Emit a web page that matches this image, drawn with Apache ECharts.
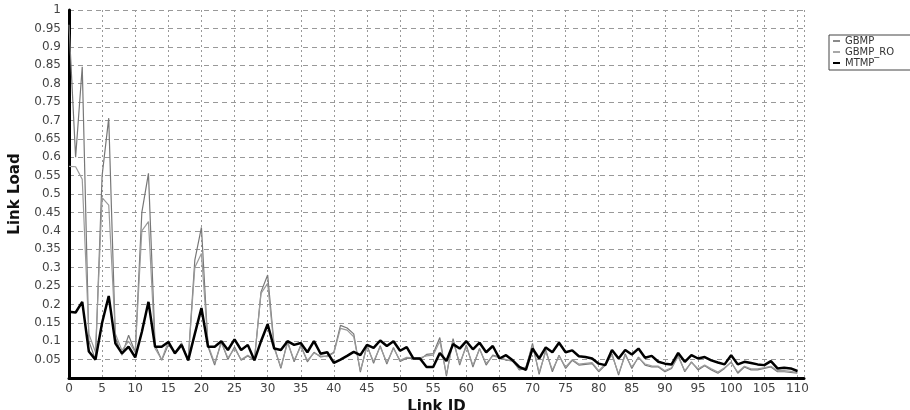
<!DOCTYPE html>
<html>
<head>
<meta charset="utf-8">
<script src="https://cdn.jsdelivr.net/npm/echarts@6/dist/echarts.min.js"></script>
<style>
  html, body { margin: 0; padding: 0; background: #fff; }
  #main { width: 910px; height: 410px; }
</style>
</head>
<body>
<div id="main"></div>
<script>
var seriesNames = ['GBMP', 'GBMP_RO', 'MTMP'];

// link load per link id 0..110
var gbmp = [
    0.96, 0.60, 0.846, 0.10, 0.05, 0.55, 0.706, 0.11, 0.062, 0.116,
    0.07, 0.45, 0.556, 0.09, 0.048, 0.09, 0.07, 0.095, 0.048, 0.32,
    0.409, 0.085, 0.035, 0.1, 0.05, 0.085, 0.048, 0.06, 0.048, 0.234,
    0.28, 0.085, 0.026, 0.1, 0.044, 0.09, 0.044, 0.07, 0.057, 0.06,
    0.07, 0.143, 0.136, 0.12, 0.016, 0.09, 0.04, 0.088, 0.038, 0.083,
    0.045, 0.054, 0.053, 0.05, 0.064, 0.066, 0.11, 0.005, 0.107, 0.035,
    0.09, 0.03, 0.08, 0.035, 0.062, 0.057, 0.048, 0.048, 0.022, 0.026,
    0.094, 0.01, 0.076, 0.017, 0.062, 0.026, 0.048, 0.035, 0.037, 0.039,
    0.017, 0.035, 0.066, 0.008, 0.066, 0.026, 0.057, 0.035, 0.03, 0.03,
    0.017, 0.026, 0.062, 0.017, 0.044, 0.022, 0.033, 0.022, 0.013, 0.026,
    0.044, 0.013, 0.03, 0.022, 0.022, 0.026, 0.03, 0.017, 0.017, 0.015,
    0.013
];
var gbmpRo = [
    0.575, 0.574, 0.54, 0.12, 0.07, 0.49, 0.47, 0.12, 0.075, 0.1,
    0.07, 0.40, 0.425, 0.08, 0.05, 0.1, 0.065, 0.09, 0.05, 0.30,
    0.338, 0.09, 0.04, 0.095, 0.055, 0.08, 0.05, 0.062, 0.05, 0.23,
    0.257, 0.08, 0.03, 0.095, 0.048, 0.085, 0.048, 0.068, 0.06, 0.058,
    0.068, 0.135, 0.13, 0.112, 0.02, 0.085, 0.045, 0.085, 0.042, 0.08,
    0.048, 0.056, 0.055, 0.055, 0.06, 0.062, 0.1, 0.01, 0.1, 0.04,
    0.085, 0.035, 0.078, 0.04, 0.06, 0.055, 0.05, 0.045, 0.025, 0.03,
    0.088, 0.015, 0.072, 0.022, 0.06, 0.03, 0.05, 0.038, 0.04, 0.042,
    0.02, 0.038, 0.062, 0.012, 0.062, 0.03, 0.055, 0.038, 0.033, 0.032,
    0.02, 0.028, 0.058, 0.02, 0.042, 0.025, 0.035, 0.025, 0.016, 0.028,
    0.042, 0.016, 0.032, 0.025, 0.025, 0.028, 0.032, 0.02, 0.02, 0.018,
    0.015
];
var mtmp = [
    0.18, 0.178, 0.207, 0.072, 0.05, 0.15, 0.223, 0.094, 0.067, 0.085,
    0.056, 0.125, 0.207, 0.085, 0.085, 0.098, 0.067, 0.09, 0.048, 0.12,
    0.19, 0.085, 0.085, 0.1, 0.076, 0.105, 0.076, 0.09, 0.048, 0.1,
    0.146, 0.08, 0.076, 0.1, 0.09, 0.095, 0.07, 0.1, 0.066, 0.07,
    0.041, 0.05, 0.06, 0.071, 0.062, 0.09, 0.082, 0.102, 0.087, 0.1,
    0.074, 0.084, 0.053, 0.053, 0.03, 0.03, 0.068, 0.046, 0.092, 0.08,
    0.1, 0.078, 0.096, 0.07, 0.087, 0.053, 0.062, 0.048, 0.03, 0.022,
    0.08, 0.053, 0.083, 0.07, 0.096, 0.07, 0.075, 0.059, 0.057, 0.053,
    0.039, 0.035, 0.076, 0.053, 0.076, 0.064, 0.08, 0.055, 0.06, 0.044,
    0.039, 0.037, 0.068, 0.044, 0.062, 0.053, 0.057, 0.048, 0.042, 0.037,
    0.062, 0.037, 0.044, 0.041, 0.037, 0.035, 0.046, 0.026, 0.028, 0.026,
    0.019
];

function pairs(values) {
    return values.map(function (v, i) { return [i, v]; });
}

var myChart = echarts.init(document.getElementById('main'));
var font = 'DejaVu Sans';

var option = {
    animation: false,
    backgroundColor: '#fff',
    grid: { left: 69, top: 10, right: 106, bottom: 32, outerBoundsMode: 'none' },
    legend: {
        orient: 'vertical',
        left: 829,
        top: 35,
        padding: [1, 40, 2, 4],
        itemGap: 1,
        itemWidth: 7,
        itemHeight: 2,
        borderColor: '#444',
        borderWidth: 1,
        borderRadius: 0,
        textStyle: { fontFamily: font, fontSize: 10, lineHeight: 9, color: '#333', padding: [0, 0, 0, 0] },
        data: [
            { name: 'GBMP', icon: 'rect', itemStyle: { color: '#8a8a8a' } },
            { name: 'GBMP_RO', icon: 'rect', itemStyle: { color: '#a8a8a8' } },
            { name: 'MTMP', icon: 'rect', itemStyle: { color: '#000' } }
        ]
    },
    xAxis: {
        type: 'value',
        min: 0,
        max: 111,
        interval: 5,
        name: 'Link ID',
        nameLocation: 'middle',
        nameGap: 22,
        nameTextStyle: { fontFamily: font, fontSize: 15, fontWeight: 'bold', color: '#111' },
        axisLine: { show: true, onZero: false, lineStyle: { color: '#000', width: 3 } },
        axisTick: { show: false },
        axisLabel: {
            showMaxLabel: false,
            margin: 5,
            fontFamily: font,
            fontSize: 12,
            color: '#444'
        },
        splitLine: { show: true, lineStyle: { color: '#999', type: [2, 3], width: 1 } }
    },
    yAxis: {
        type: 'value',
        min: 0,
        max: 1,
        interval: 0.05,
        name: 'Link Load',
        nameLocation: 'middle',
        nameGap: 46,
        nameTextStyle: { fontFamily: font, fontSize: 15, fontWeight: 'bold', color: '#111' },
        axisLine: { show: true, lineStyle: { color: '#000', width: 3 } },
        axisTick: { show: false },
        axisLabel: {
            margin: 8,
            fontFamily: font,
            fontSize: 12,
            color: '#444',
            formatter: function (v) { return v === 0 ? '' : String(+v.toFixed(2)); }
        },
        splitLine: { show: true, lineStyle: { color: '#999', type: [5, 4], width: 1 } }
    },
    series: [{
        name: seriesNames[0],
        type: 'line',
        showSymbol: false,
        color: '#8a8a8a',
        lineStyle: { width: 1.2, color: '#777' },
        data: pairs(gbmp),
        z: 2
    }, {
        name: seriesNames[1],
        type: 'line',
        showSymbol: false,
        color: '#a8a8a8',
        lineStyle: { width: 1.2, color: '#9a9a9a' },
        data: pairs(gbmpRo),
        z: 3
    }, {
        name: seriesNames[2],
        type: 'line',
        showSymbol: false,
        color: '#000',
        lineStyle: { width: 2.5, color: '#000' },
        data: pairs(mtmp),
        z: 4
    }]
};
myChart.setOption(option);
</script>
</body>
</html>
